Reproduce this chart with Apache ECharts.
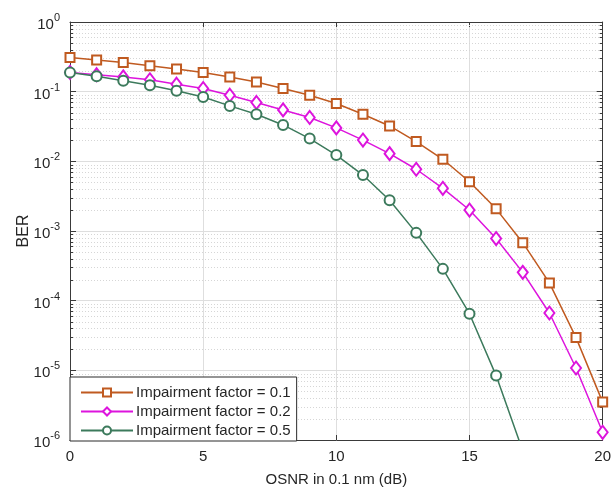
<!DOCTYPE html>
<html>
<head>
<meta charset="utf-8">
<script src="https://cdn.jsdelivr.net/npm/echarts@6/dist/echarts.min.js"></script>
<style>
  html, body { margin: 0; padding: 0; background: #fff; }
  #chart { width: 614px; height: 492px; }
</style>
</head>
<body>
<div id="chart"></div>
<script>
// OSNR sweep (dB, 0.1 nm reference bandwidth)
const osnr = [0, 1, 2, 3, 4, 5, 6, 7, 8, 9, 10, 11, 12, 13, 14, 15, 16, 17, 18, 19, 20];

// Bit error rate for each impairment factor
const ber01 = [0.31, 0.284, 0.263, 0.235, 0.211, 0.189, 0.162, 0.138, 0.111, 0.089, 0.0676,
               0.0475, 0.0322, 0.0192, 0.0107, 0.0051, 0.00208, 6.8e-4, 1.8e-4, 2.95e-5, 3.5e-6];
const ber02 = [0.189, 0.175, 0.163, 0.148, 0.128, 0.111, 0.089, 0.070, 0.0547, 0.0426, 0.0302,
               0.0202, 0.0129, 0.0077, 0.0041, 0.0020, 7.8e-4, 2.55e-4, 6.65e-5, 1.08e-5, 1.29e-6];
const ber05 = [0.189, 0.166, 0.143, 0.124, 0.103, 0.084, 0.0625, 0.0475, 0.0333, 0.0212, 0.0123,
               0.00635, 0.00277, 9.4e-4, 2.86e-4, 6.5e-5, 8.4e-6, 7e-7];

const seriesNames = ['Impairment factor = 0.1', 'Impairment factor = 0.2', 'Impairment factor = 0.5'];
const xTicks = [0, 5, 10, 15, 20];

// Minor grid values between decades (2..9 x 10^k)
const minorValues = [];
for (let k = -6; k < 0; k++) {
  for (let m = 2; m <= 9; m++) minorValues.push(m * Math.pow(10, k));
}

const axisColor = '#3a3a3a';
const textColor = '#262626';
const fontFamily = '"Liberation Sans", Arial, Helvetica, sans-serif';

function pairs(ys) {
  return ys.map((v, i) => [osnr[i], v]);
}

const chart = echarts.init(document.getElementById('chart'), null, { renderer: 'canvas' });

const lineCommon = {
  type: 'line',
  showAllSymbol: true,
  clip: true,
  z: 5
};

chart.setOption({
  animation: false,
  backgroundColor: '#ffffff',
  textStyle: { fontFamily: fontFamily, color: textColor },
  grid: { left: 70, right: 10, top: 22, bottom: 51, containLabel: false },
  legend: {
    data: seriesNames,
    orient: 'vertical',
    left: 70,
    top: 377,
    itemWidth: 52,
    itemHeight: 10,
    itemGap: 4,
    padding: [8, 6, 3, 10],
    backgroundColor: '#ffffff',
    borderColor: '#2a2a2a',
    borderWidth: 1,
    textStyle: { fontSize: 15, color: textColor, fontFamily: fontFamily, padding: [0, 0, 0, -2] }
  },
  xAxis: [{
    type: 'value',
    min: 0, max: 20, interval: 5,
    name: 'OSNR in 0.1 nm (dB)',
    nameLocation: 'middle',
    nameGap: 32,
    nameTextStyle: { fontSize: 15, color: textColor, fontFamily: fontFamily },
    axisLine: { show: true, onZero: false, lineStyle: { color: axisColor, width: 1 } },
    axisTick: { show: true, inside: true, length: 5, lineStyle: { color: axisColor } },
    axisLabel: {
      fontSize: 15, color: textColor, margin: 9, fontFamily: fontFamily,
      formatter: v => (xTicks.indexOf(v) >= 0 ? String(v) : '')
    },
    splitLine: { show: true, lineStyle: { color: '#dedede', width: 1 } }
  }, {
    type: 'value',
    position: 'top',
    min: 0, max: 20, interval: 5,
    axisLine: { show: true, onZero: false, lineStyle: { color: axisColor, width: 1 } },
    axisTick: { show: true, inside: true, length: 5, lineStyle: { color: axisColor } },
    axisLabel: { show: false },
    splitLine: { show: false }
  }],
  yAxis: [{
    type: 'log',
    logBase: 10,
    min: 1e-6, max: 1, interval: 1,
    name: 'BER',
    nameLocation: 'middle',
    nameGap: 38,
    nameMoveOverlap: false,
    nameTextStyle: { fontSize: 16, color: textColor, fontFamily: fontFamily },
    axisLine: { show: true, onZero: false, lineStyle: { color: axisColor, width: 1 } },
    axisTick: { show: true, inside: true, length: 6, lineStyle: { color: axisColor } },
    axisLabel: {
      margin: 10,
      formatter: function (v) {
        const e = Math.round(Math.log10(v));
        return '{b|10}{s|' + e + '}';
      },
      rich: {
        b: { fontSize: 15, color: textColor, fontFamily: fontFamily, padding: [6, 0, 0, 0] },
        s: { fontSize: 11, color: textColor, fontFamily: fontFamily, padding: [0, 0, 8, 0] }
      }
    },
    splitLine: { show: true, lineStyle: { color: '#dedede', width: 1 } }
  }, {
    type: 'log',
    logBase: 10,
    position: 'right',
    min: 1e-6, max: 1, interval: 1,
    axisLine: { show: true, onZero: false, lineStyle: { color: axisColor, width: 1 } },
    axisTick: { show: true, inside: true, length: 6, lineStyle: { color: axisColor } },
    axisLabel: { show: false },
    splitLine: { show: false }
  }],
  series: [
    {
      // Dotted minor grid with minor ticks on both vertical edges
      type: 'custom',
      coordinateSystem: 'cartesian2d',
      silent: true,
      z: 1,
      clip: true,
      data: minorValues.map(v => [0, v]),
      renderItem: function (params, api) {
        const cs = params.coordSys;
        const p = api.coord([0, api.value(1)]);
        const y = Math.round(p[1]) + 0.5;
        return {
          type: 'group',
          children: [
            {
              type: 'line',
              shape: { x1: cs.x, y1: y, x2: cs.x + cs.width, y2: y },
              style: { stroke: '#d6d6d6', lineWidth: 1, lineDash: [1, 2] }
            },
            {
              type: 'line',
              shape: { x1: cs.x, y1: y, x2: cs.x + 3, y2: y },
              style: { stroke: axisColor, lineWidth: 1 }
            },
            {
              type: 'line',
              shape: { x1: cs.x + cs.width - 3, y1: y, x2: cs.x + cs.width, y2: y },
              style: { stroke: axisColor, lineWidth: 1 }
            }
          ]
        };
      }
    },
    Object.assign({}, lineCommon, {
      name: seriesNames[0],
      data: pairs(ber01),
      symbol: 'emptyRect',
      symbolSize: 9,
      color: '#c05a20',
      lineStyle: { width: 1.5, color: '#c05a20' },
      itemStyle: { color: '#c05a20', borderColor: '#c05a20', borderWidth: 1.2 }
    }),
    Object.assign({}, lineCommon, {
      name: seriesNames[1],
      data: pairs(ber02),
      symbol: 'emptyDiamond',
      symbolSize: [10, 13],
      color: '#dd14dd',
      lineStyle: { width: 1.5, color: '#dd14dd' },
      itemStyle: { color: '#dd14dd', borderColor: '#dd14dd', borderWidth: 1.2 }
    }),
    Object.assign({}, lineCommon, {
      name: seriesNames[2],
      data: pairs(ber05),
      symbol: 'emptyCircle',
      symbolSize: 10,
      color: '#3c7a5c',
      lineStyle: { width: 1.5, color: '#3c7a5c' },
      itemStyle: { color: '#3c7a5c', borderColor: '#3c7a5c', borderWidth: 1.2 }
    })
  ]
});
</script>
</body>
</html>
